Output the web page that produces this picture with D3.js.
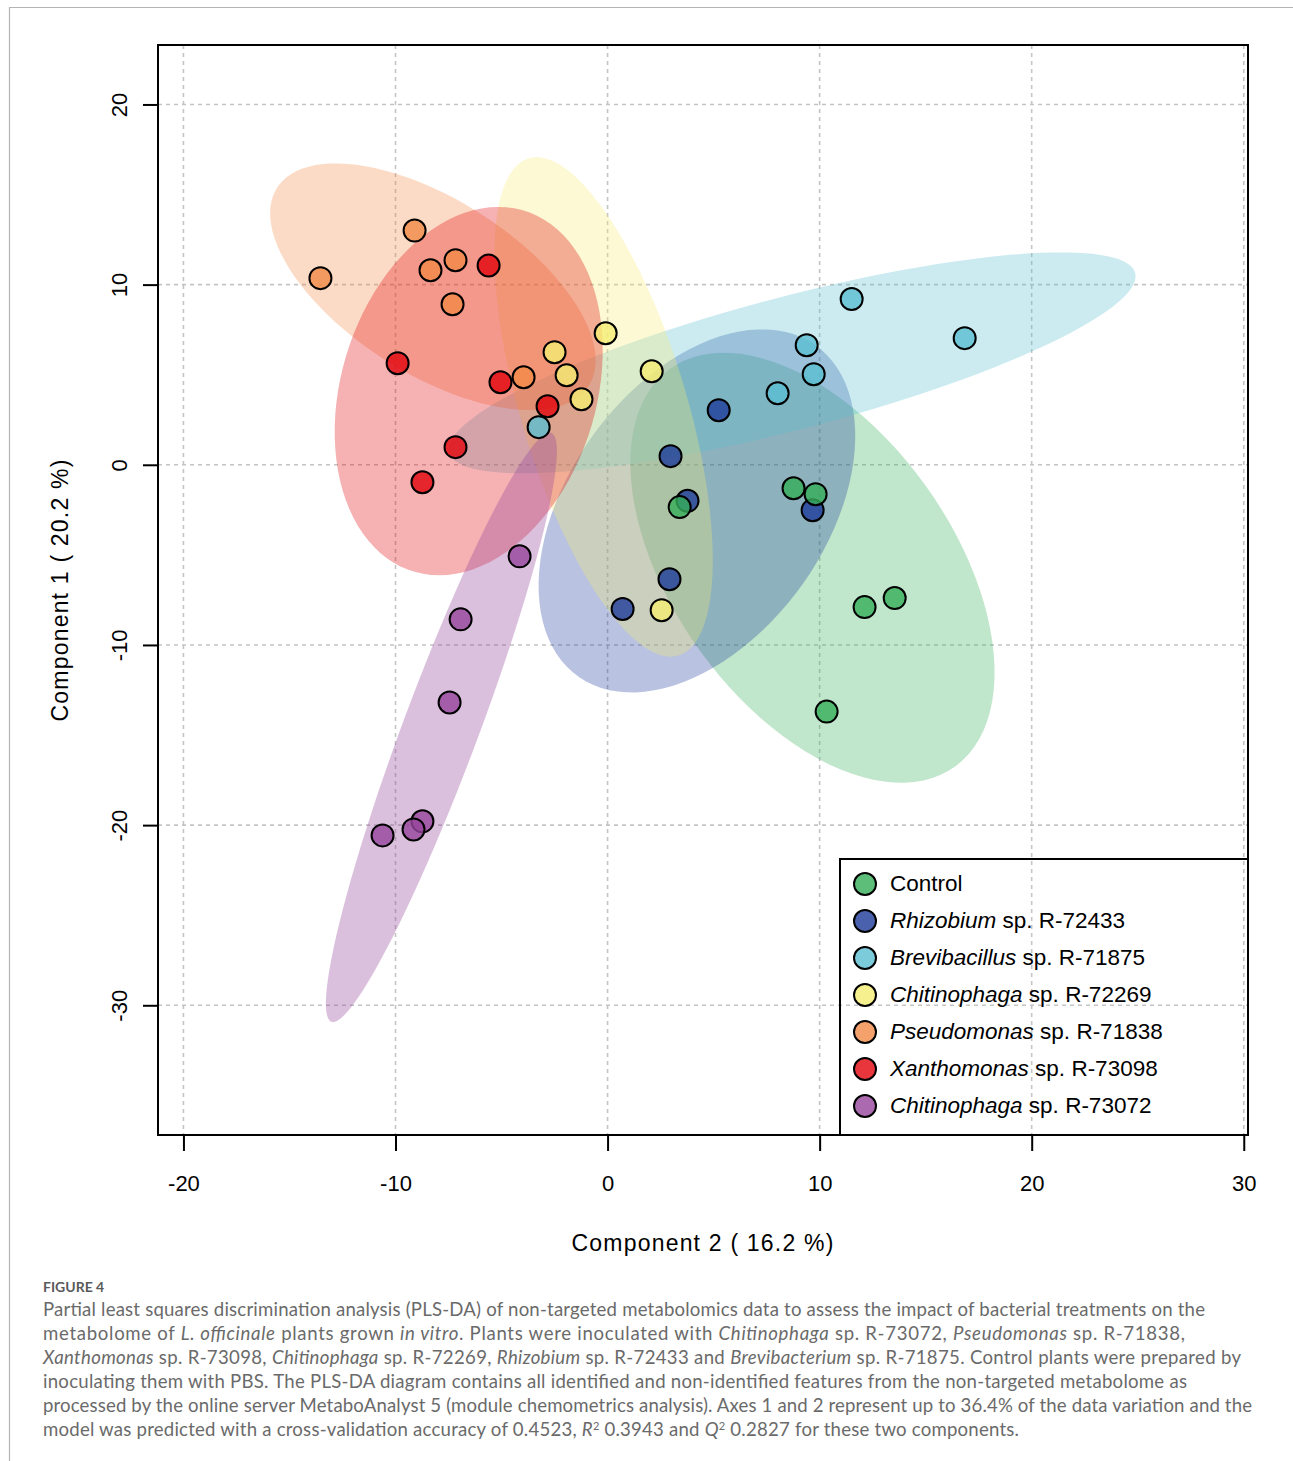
<!DOCTYPE html>
<html>
<head>
<meta charset="utf-8">
<script src="https://cdn.jsdelivr.net/npm/d3@7"></script>
<style>
  html, body { margin: 0; padding: 0; background: #fff; }
  svg { display: block; }
</style>
</head>
<body>
<svg id="chart" width="1293" height="1461"></svg>
<script>
// groups, in legend order
let groupGenus = ["", "Rhizobium", "Brevibacillus", "Chitinophaga", "Pseudomonas", "Xanthomonas", "Chitinophaga"];
let groupRest = ["Control", " sp. R-72433", " sp. R-71875", " sp. R-72269", " sp. R-71838", " sp. R-73098", " sp. R-73072"];
let groupColors = ["#34ae59", "#1d3b9a", "#5abed2", "#f5ec73", "#f18a46", "#e2040b", "#96459c"];

// samples (drawing order), component 2 on x, component 1 on y
let sampleGroup = [1, 1, 1, 1, 1, 1,
                   0, 0, 0, 0, 0, 0,
                   2, 2, 2, 2, 2, 2,
                   3, 3, 3, 3, 3, 3,
                   4, 4, 4, 4, 4, 4,
                   5, 5, 5, 5, 5, 5,
                   6, 6, 6, 6, 6, 6];
let comp2 = [5.24, 2.97, 3.77, 9.67, 2.92, 0.71,
             3.40, 8.77, 9.81, 12.12, 13.54, 10.33,
             11.51, 16.84, 9.39, 9.72, 8.02, -3.25,
             -0.09, -2.50, -1.93, -1.23, 2.08, 2.55,
             -9.10, -13.54, -8.35, -7.17, -7.31, -3.96,
             -5.61, -9.90, -5.05, -2.83, -7.17, -8.73,
             -4.15, -6.93, -7.45, -8.73, -9.15, -10.61];
let comp1 = [3.03, 0.48, -2.00, -2.52, -6.35, -8.00,
             -2.35, -1.30, -1.63, -7.90, -7.40, -13.70,
             9.20, 7.03, 6.64, 5.03, 3.97, 2.09,
             7.30, 6.25, 4.97, 3.64, 5.19, -8.07,
             13.00, 10.36, 10.80, 11.35, 8.91, 4.86,
             11.06, 5.64, 4.58, 3.25, 0.98, -0.97,
             -5.08, -8.58, -13.19, -19.79, -20.24, -20.57];

let xTicks = [-20, -10, 0, 10, 20, 30];
let yTicks = [-30, -20, -10, 0, 10, 20];

let svg = d3.select("#chart");
let axisFont = "'Liberation Sans', Arial, sans-serif";

let xScale = d3.scaleLinear().domain([-21.2, 30.2]).range([158, 1248]);
let yScale = d3.scaleLinear().domain([-37.2, 23.3]).range([1135, 45]);

// page frame
svg.append("line").attr("x1", 9).attr("x2", 1293).attr("y1", 7.5).attr("y2", 7.5)
  .attr("stroke", "#b4b4b4").attr("stroke-width", 1.2);
svg.append("line").attr("x1", 9.5).attr("x2", 9.5).attr("y1", 7).attr("y2", 1461)
  .attr("stroke", "#b4b4b4").attr("stroke-width", 1.2);

svg.append("clipPath").attr("id", "plotclip").append("rect")
  .attr("x", 158).attr("y", 45).attr("width", 1090).attr("height", 1090);

// grid
let grid = svg.append("g").attr("clip-path", "url(#plotclip)")
  .attr("stroke", "#c4c4c4").attr("stroke-width", 1.6).attr("stroke-dasharray", "4,4");
grid.selectAll(".gx").data(xTicks).enter().append("line")
  .attr("x1", d => xScale(d)).attr("x2", d => xScale(d)).attr("y1", 45).attr("y2", 1135);
grid.selectAll(".gy").data(yTicks).enter().append("line")
  .attr("y1", d => yScale(d)).attr("y2", d => yScale(d)).attr("x1", 158).attr("x2", 1248);

// 95% confidence ellipses from the group covariance
let chi = Math.sqrt(5.991465);
let ellipseLine = d3.line().x(d => xScale(d[0])).y(d => yScale(d[1])).curve(d3.curveLinearClosed);

function groupEllipse(g) {
  let xs = comp2.filter((v, i) => sampleGroup[i] === g);
  let ys = comp1.filter((v, i) => sampleGroup[i] === g);
  let n = xs.length;
  let mx = d3.mean(xs), my = d3.mean(ys);
  let sxx = d3.sum(xs, v => (v - mx) * (v - mx)) / (n - 1);
  let syy = d3.sum(ys, v => (v - my) * (v - my)) / (n - 1);
  let sxy = d3.sum(xs, (v, i) => (v - mx) * (ys[i] - my)) / (n - 1);
  let m = (sxx + syy) / 2;
  let r = Math.sqrt(((sxx - syy) / 2) ** 2 + sxy * sxy);
  let l1 = m + r, l2 = Math.max(m - r, 0);
  let th = 0.5 * Math.atan2(2 * sxy, sxx - syy);
  let pts = d3.range(100).map(k => {
    let s = 2 * Math.PI * k / 100;
    let a = chi * Math.sqrt(l1) * Math.cos(s);
    let b = chi * Math.sqrt(l2) * Math.sin(s);
    return [mx + a * Math.cos(th) - b * Math.sin(th), my + a * Math.sin(th) + b * Math.cos(th)];
  });
  return pts;
}

svg.append("g").attr("clip-path", "url(#plotclip)")
  .selectAll("path").data(d3.range(groupColors.length)).enter().append("path")
  .attr("d", g => ellipseLine(groupEllipse(g)))
  .attr("fill", g => groupColors[g])
  .attr("fill-opacity", g => g === 6 ? 0.34 : 0.31)
  .attr("stroke", "none");

// points
svg.append("g").selectAll("circle").data(comp2).enter().append("circle")
  .attr("cx", d => xScale(d))
  .attr("cy", (d, i) => yScale(comp1[i]))
  .attr("r", 11)
  .attr("fill", (d, i) => groupColors[sampleGroup[i]])
  .attr("fill-opacity", 0.8)
  .attr("stroke", "#000")
  .attr("stroke-width", 2);

// box
svg.append("rect").attr("x", 158).attr("y", 45).attr("width", 1090).attr("height", 1090)
  .attr("fill", "none").attr("stroke", "#000").attr("stroke-width", 2);

// axes
let xAxis = svg.append("g").attr("transform", "translate(0,1135)")
  .call(d3.axisBottom(xScale).tickValues(xTicks).tickSize(16).tickPadding(24).tickFormat(d3.format("d")));
let yAxis = svg.append("g").attr("transform", "translate(158,0)")
  .call(d3.axisLeft(yScale).tickValues(yTicks).tickSize(15).tickFormat(d3.format("d")));
[xAxis, yAxis].forEach(ax => {
  ax.select(".domain").remove();
  ax.selectAll(".tick line").attr("stroke", "#000").attr("stroke-width", 2);
  ax.selectAll("text").attr("fill", "#000").style("font-family", axisFont).style("font-size", "22px");
});
xAxis.selectAll("text").text(d => d < 0 ? "-" + Math.abs(d) : d);
yAxis.selectAll("text")
  .text(d => d < 0 ? "-" + Math.abs(d) : d)
  .attr("x", null).attr("dy", null)
  .attr("text-anchor", "middle")
  .attr("transform", "translate(-31,0) rotate(-90)");

svg.append("text").attr("x", 703).attr("y", 1251).attr("text-anchor", "middle")
  .style("font-family", axisFont).style("font-size", "23px").style("letter-spacing", "1.2px")
  .text("Component 2 ( 16.2 %)");
svg.append("text").attr("transform", "translate(68,590) rotate(-90)").attr("text-anchor", "middle")
  .style("font-family", axisFont).style("font-size", "23px").style("letter-spacing", "1.2px")
  .text("Component 1 ( 20.2 %)");

// legend
svg.append("rect").attr("x", 840).attr("y", 859).attr("width", 408).attr("height", 276)
  .attr("fill", "none").attr("stroke", "#000").attr("stroke-width", 2);
let leg = svg.append("g").selectAll("g").data(d3.range(groupColors.length)).enter().append("g")
  .attr("transform", g => `translate(865,${884 + g * 37})`);
leg.append("circle").attr("r", 11)
  .attr("fill", g => groupColors[g]).attr("fill-opacity", 0.8)
  .attr("stroke", "#000").attr("stroke-width", 2);
let legText = leg.append("text").attr("x", 25).attr("y", 7)
  .style("font-family", axisFont).style("font-size", "22.5px");
legText.append("tspan").style("font-style", "italic").text(g => groupGenus[g]);
legText.append("tspan").text(g => groupRest[g]);

// caption
let capFont = "Lato, 'Open Sans', sans-serif";
svg.append("text").attr("x", 43).attr("y", 1292)
  .style("font-family", capFont).style("font-size", "14px").style("font-weight", 700)
  .attr("fill", "#5a5a5a").text("FIGURE 4");

let captionLines = [
  [["Partial least squares discrimination analysis (PLS-DA) of non-targeted metabolomics data to assess the impact of bacterial treatments on the", 0]],
  [["metabolome of ", 0], ["L. officinale", 1], [" plants grown ", 0], ["in vitro", 1], [". Plants were inoculated with ", 0], ["Chitinophaga", 1], [" sp. R-73072, ", 0], ["Pseudomonas", 1], [" sp. R-71838,", 0]],
  [["Xanthomonas", 1], [" sp. R-73098, ", 0], ["Chitinophaga", 1], [" sp. R-72269, ", 0], ["Rhizobium", 1], [" sp. R-72433 and ", 0], ["Brevibacterium", 1], [" sp. R-71875. Control plants were prepared by", 0]],
  [["inoculating them with PBS. The PLS-DA diagram contains all identified and non-identified features from the non-targeted metabolome as", 0]],
  [["processed by the online server MetaboAnalyst 5 (module chemometrics analysis). Axes 1 and 2 represent up to 36.4% of the data variation and the", 0]],
  [["model was predicted with a cross-validation accuracy of 0.4523, ", 0], ["R", 1], ["2", 2], [" 0.3943 and ", 0], ["Q", 1], ["2", 2], [" 0.2827 for these two components.", 0]]
];
let captionWidths = [1162, 1142, 1198, 1144, 1209, 976];

captionLines.forEach((parts, li) => {
  let t = svg.append("text").attr("x", 43).attr("y", 1316 + li * 24)
    .style("font-family", capFont).style("font-size", "18.6px")
    .attr("fill", "#6a6a6a")
    .attr("textLength", captionWidths[li]).attr("lengthAdjust", "spacing");
  parts.forEach(p => {
    let s = t.append("tspan").text(p[0]);
    if (p[1] === 1) s.style("font-style", "italic");
    if (p[1] === 2) s.attr("baseline-shift", "super").style("font-size", "11px");
  });
});
</script>
</body>
</html>
